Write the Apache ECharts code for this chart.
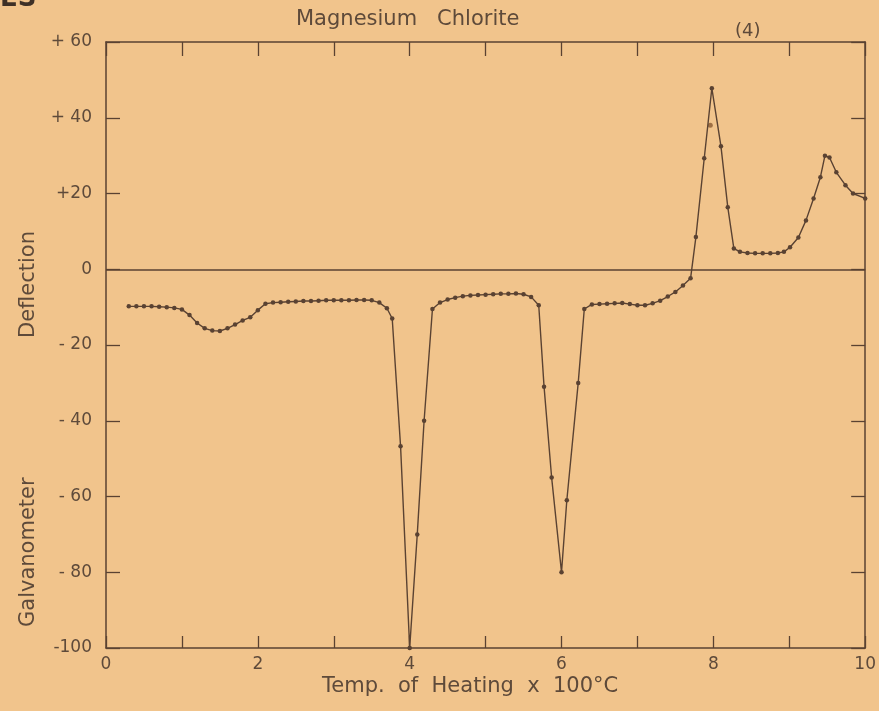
<!DOCTYPE html>
<html>
<head>
<meta charset="utf-8">
<script src="https://cdn.jsdelivr.net/npm/echarts@6/dist/echarts.min.js"></script>
<style>
  html, body { margin: 0; padding: 0; background: #f1c48c; }
  #main { width: 879px; height: 711px; }
</style>
</head>
<body>
<div id="main"></div>
<script>
// temperature (x 100 C) and galvanometer deflection
var tempVals = [0.3, 0.4, 0.5, 0.6, 0.7, 0.8, 0.9, 1.0, 1.1, 1.2, 1.3, 1.4, 1.5, 1.6, 1.7, 1.8, 1.9, 2.0,
  2.1, 2.2, 2.3, 2.4, 2.5, 2.6, 2.7, 2.8, 2.9, 3.0, 3.1, 3.2, 3.3, 3.4, 3.5, 3.6, 3.7, 3.77, 3.88,
  4.0, 4.1, 4.19, 4.3, 4.4, 4.5, 4.6, 4.7, 4.8, 4.9, 5.0, 5.1, 5.2, 5.3, 5.4, 5.5, 5.6, 5.7, 5.77, 5.87,
  6.0, 6.07, 6.22, 6.3, 6.4, 6.5, 6.6, 6.7, 6.8, 6.9, 7.0, 7.1, 7.2, 7.3, 7.4, 7.5, 7.6, 7.7, 7.77, 7.88,
  7.98, 8.1, 8.19, 8.27, 8.35, 8.45, 8.55, 8.65, 8.75, 8.85, 8.93, 9.01, 9.12, 9.22, 9.32, 9.41, 9.47,
  9.53, 9.62, 9.74, 9.84, 10.0];
var deflVals = [-9.8, -9.8, -9.8, -9.8, -9.9, -10.0, -10.2, -10.6, -12.1, -14.2, -15.6, -16.2, -16.3, -15.6, -14.6, -13.5, -12.7, -10.8,
  -9.1, -8.8, -8.7, -8.6, -8.5, -8.4, -8.4, -8.3, -8.2, -8.2, -8.2, -8.2, -8.1, -8.1, -8.2, -8.8, -10.3, -13, -46.7,
  -100, -70, -40, -10.5, -8.8, -8.0, -7.5, -7.1, -6.9, -6.8, -6.7, -6.6, -6.5, -6.5, -6.4, -6.6, -7.3, -9.5, -31, -55,
  -80, -61, -30, -10.5, -9.3, -9.2, -9.1, -9.0, -8.9, -9.2, -9.5, -9.5, -9.0, -8.3, -7.2, -6.0, -4.3, -2.4, 8.5, 29.3,
  47.8, 32.5, 16.4, 5.5, 4.6, 4.3, 4.2, 4.2, 4.2, 4.3, 4.6, 5.8, 8.4, 12.9, 18.7, 24.3, 30,
  29.5, 25.6, 22.2, 20, 18.7];
// one stray reading drawn off the line near the first peak
var strayPoint = [7.96, 38];

var xLabels = ['0', '', '2', '', '4', '', '6', '', '8', '', '10'];
var yTickValues = [60, 40, 20, 0, -20, -40, -60, -80, -100];
var yTickLabels = ['+ 60', '+ 40', '+20', '0', '- 20', '- 40', '- 60', '- 80', '-100'];

var ink = '#5a4232';
var textInk = '#5e4a3a';
var font = 'DejaVu Sans';

var curve = [];
for (var i = 0; i < tempVals.length; i++) {
  curve.push([tempVals[i], deflVals[i]]);
}

var myChart = echarts.init(document.getElementById('main'), null, { renderer: 'canvas' });

var axisLineStyle = { show: true, onZero: false, lineStyle: { color: ink, width: 1.5 } };

var option = {
  backgroundColor: '#f1c48c',
  animation: false,
  grid: { left: 106, right: 12, top: 42, bottom: 63 },
  xAxis: [
    {
      type: 'value', min: 0, max: 10, interval: 1, position: 'bottom',
      axisLine: axisLineStyle,
      axisTick: { show: true, inside: true, length: 12, lineStyle: { color: ink, width: 1.3 } },
      axisLabel: {
        margin: 8, color: textInk, fontFamily: font, fontSize: 17,
        formatter: function (v) { return xLabels[Math.round(v)]; }
      },
      splitLine: { show: false }
    },
    {
      type: 'value', min: 0, max: 10, interval: 1, position: 'top',
      axisLine: axisLineStyle,
      axisTick: { show: true, inside: true, length: 14, lineStyle: { color: ink, width: 1.3 } },
      axisLabel: { show: false },
      splitLine: { show: false }
    }
  ],
  yAxis: [
    {
      type: 'value', min: -100, max: 60, interval: 20, position: 'left',
      axisLine: axisLineStyle,
      axisTick: { show: true, inside: true, length: 14, lineStyle: { color: ink, width: 1.3 } },
      axisLabel: {
        margin: 14, color: textInk, fontFamily: font, fontSize: 17,
        formatter: function (v) { return yTickLabels[yTickValues.indexOf(v)]; }
      },
      splitLine: { show: false }
    },
    {
      type: 'value', min: -100, max: 60, interval: 20, position: 'right',
      axisLine: axisLineStyle,
      axisTick: { show: true, inside: true, length: 14, lineStyle: { color: ink, width: 1.3 } },
      axisLabel: { show: false },
      splitLine: { show: false }
    }
  ],
  graphic: [
    { type: 'text', left: 296, top: 9, style: { text: 'Magnesium   Chlorite', font: '21px ' + font, fill: textInk } },
    { type: 'text', left: 735, top: 22, style: { text: '(4)', font: '18px ' + font, fill: textInk } },
    { type: 'text', left: 322, top: 676, style: { text: 'Temp.  of  Heating  x  100°C', font: '21px ' + font, fill: textInk } },
    { type: 'text', x: 18, y: 627, rotation: Math.PI / 2, style: { text: 'Galvanometer', font: '21px ' + font, fill: textInk } },
    { type: 'text', x: 18, y: 338, rotation: Math.PI / 2, style: { text: 'Deflection', font: '21px ' + font, fill: textInk } },
    { type: 'text', left: 0, top: -14, style: { text: 'ES', font: 'bold 26px ' + font, fill: '#3e3026' } }
  ],
  series: [
    {
      type: 'line',
      data: curve,
      smooth: false,
      symbol: 'circle',
      symbolSize: 4.5,
      itemStyle: { color: ink },
      lineStyle: { color: ink, width: 1.4 },
      markLine: {
        silent: true,
        symbol: 'none',
        label: { show: false },
        lineStyle: { color: ink, width: 1.5, type: 'solid' },
        data: [{ yAxis: 0 }]
      }
    },
    {
      type: 'scatter',
      data: [strayPoint],
      symbol: 'circle',
      symbolSize: 5,
      itemStyle: { color: '#8a5a32' }
    }
  ]
};

myChart.setOption(option);
</script>
</body>
</html>
